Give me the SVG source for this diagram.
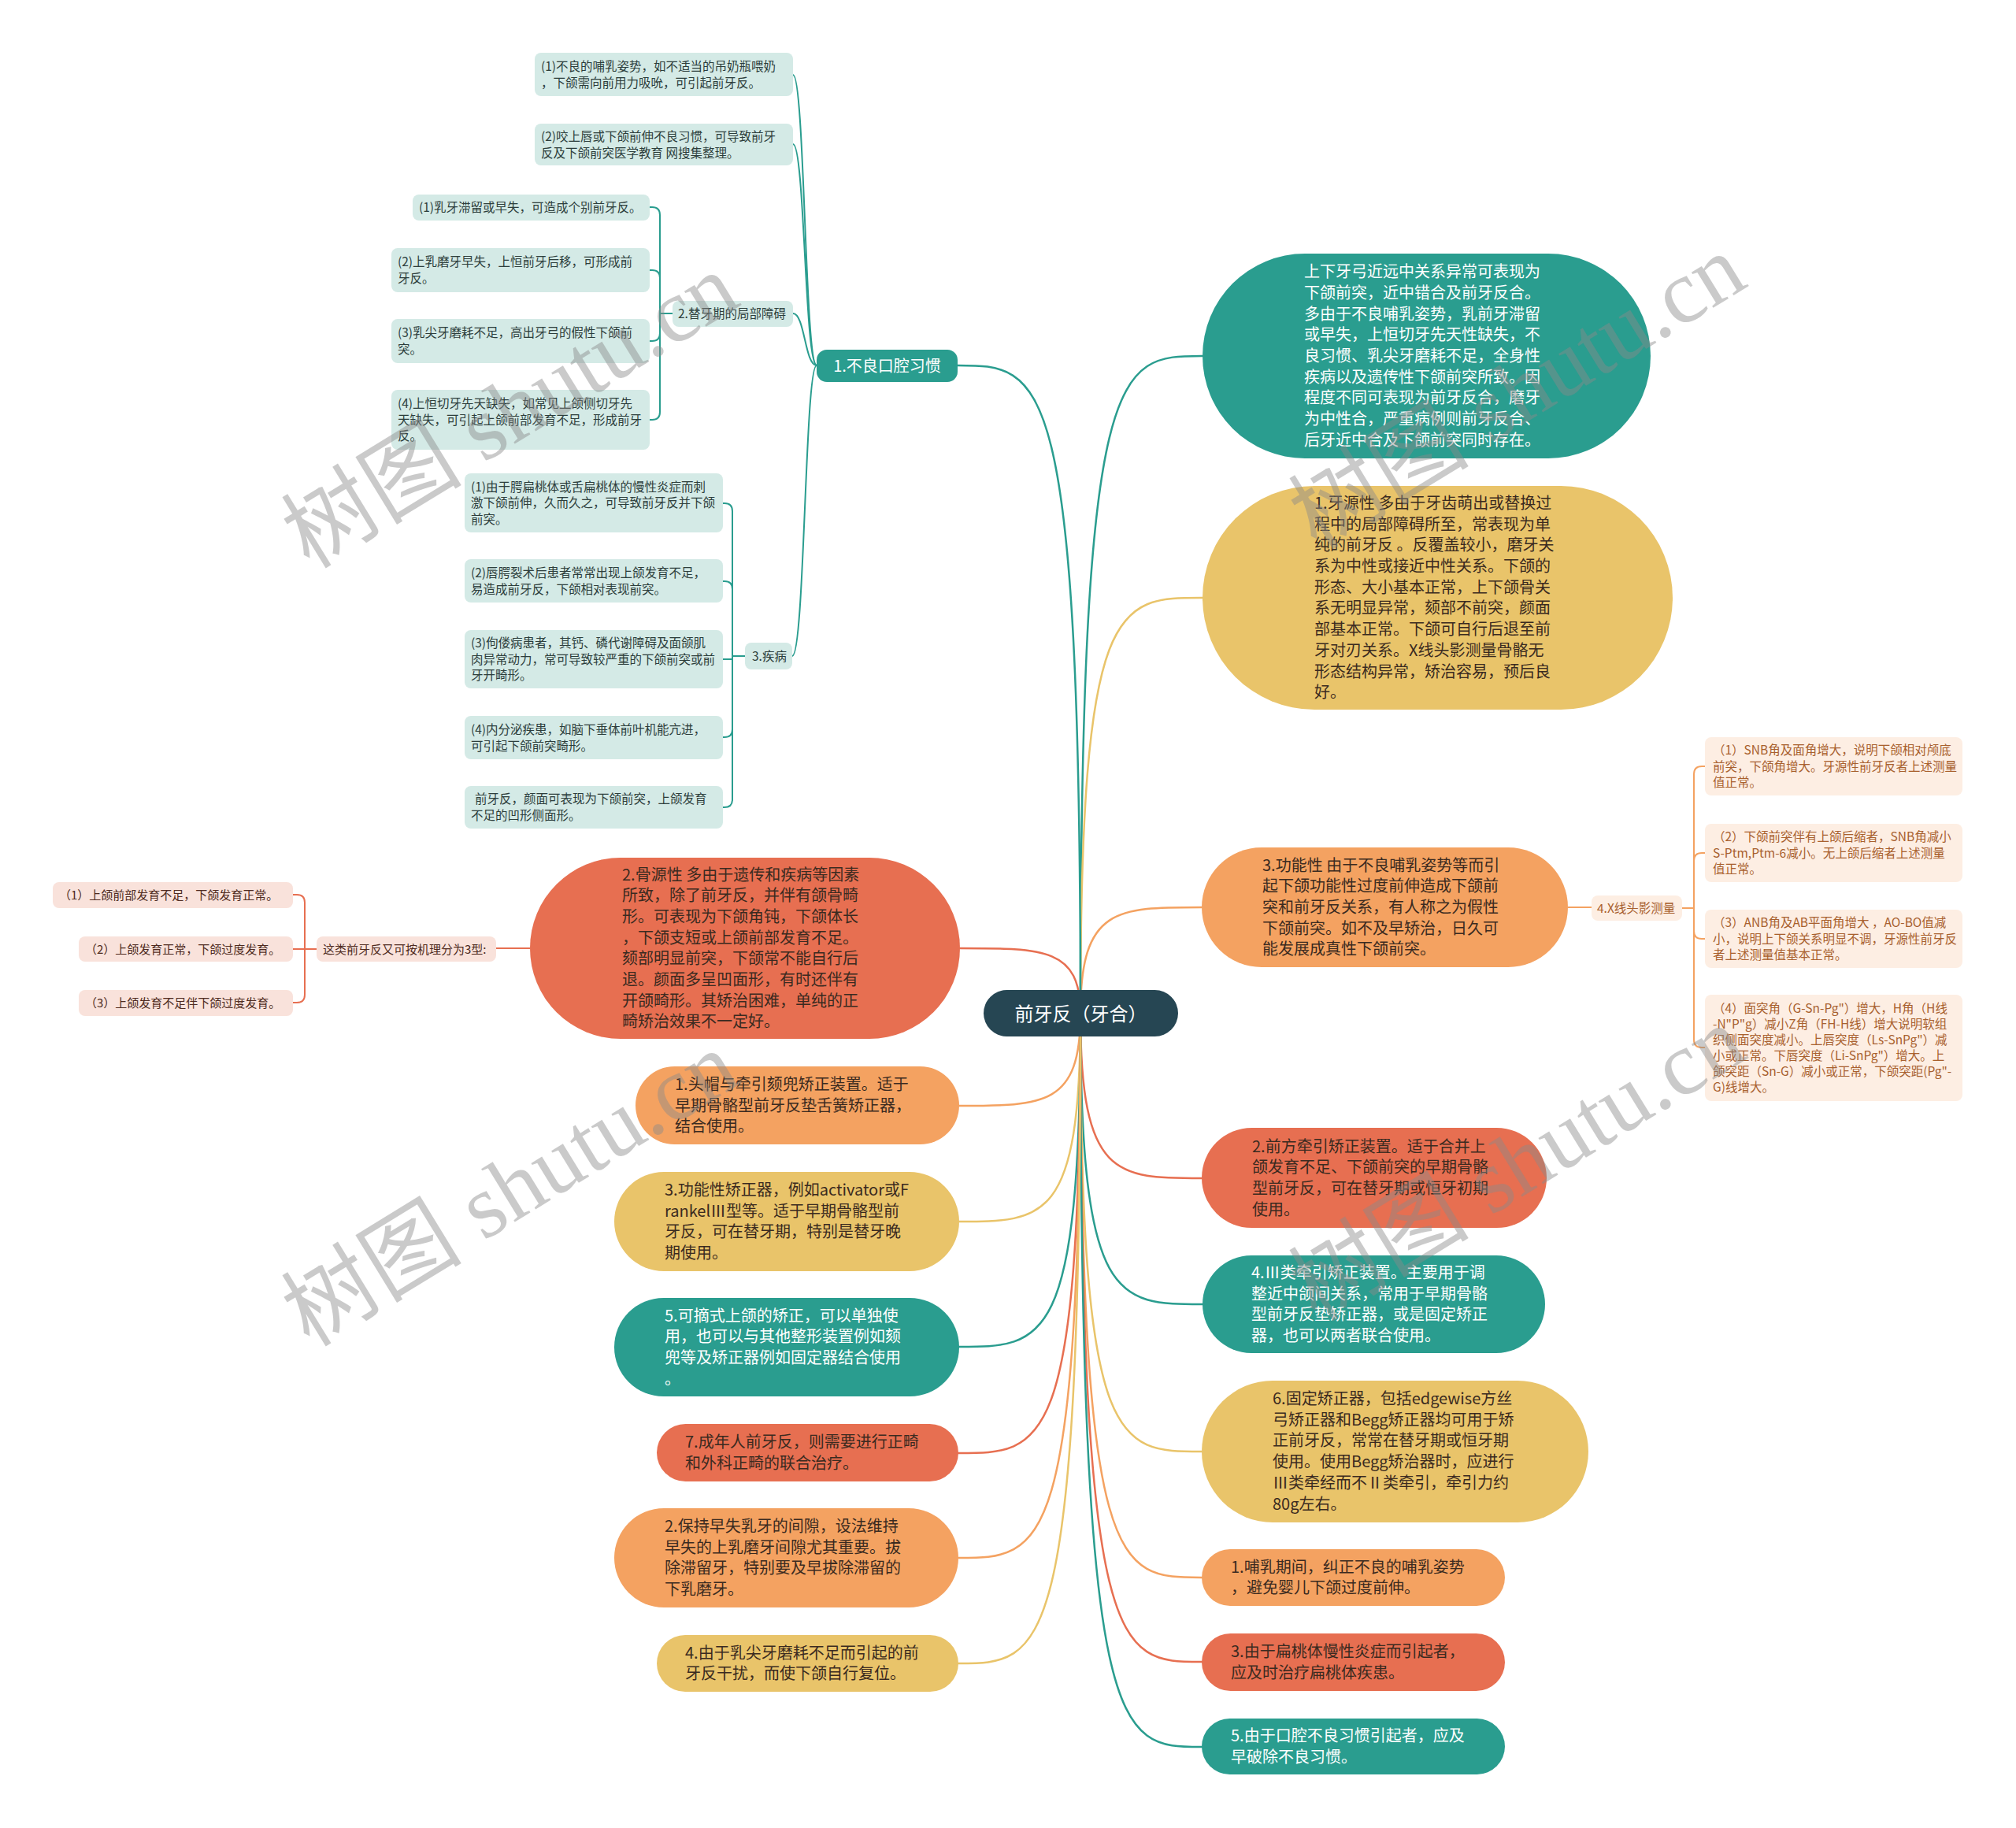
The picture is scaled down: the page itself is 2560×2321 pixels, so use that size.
<svg xmlns="http://www.w3.org/2000/svg" width="2560" height="2321" viewBox="0 0 2560 2321">
<style>
text{font-family:"Noto Sans CJK SC","Noto Sans",sans-serif;}
.big{font-size:20px;}
.sm{font-size:15.5px;}
.xs{font-size:15px;}
.w{fill:#ffffff;}
.d{fill:#3a2a20;}
.tl{fill:#2c3d3b;}
.ob{fill:#a8602e;}
.rb{fill:#4e2a20;}
.teal{fill:#2a9d8f;}
.yel{fill:#e9c46a;}
.org{fill:#f4a261;}
.red{fill:#e76f51;}
.bt{fill:#d4eae6;}
.bo{fill:#fdeee3;}
.br{fill:#f9e2db;}
.c{fill:none;stroke-width:2.5;stroke-linecap:round;}
.g{fill:none;stroke-width:2;}
.sT{stroke:#2a9d8f;}
.sY{stroke:#e9c46a;}
.sO{stroke:#f4a261;}
.sR{stroke:#e76f51;}
.wm{font-family:"Liberation Serif","Noto Sans CJK SC",serif;font-size:115px;fill:#8a8a8a;fill-opacity:0.45;}
</style>
<rect width="2560" height="2321" fill="#ffffff"/>
<g id="connectors">
<path class="c sT" d="M1372 1287 C1372 452 1418 452 1527 452"/>
<path class="c sY" d="M1372 1287 C1372 759 1418 759 1527 759"/>
<path class="c sO" d="M1372 1287 C1372 1152 1418 1152 1526 1152"/>
<path class="c sR" d="M1372 1287 C1372 1496 1418 1496 1526 1496"/>
<path class="c sT" d="M1372 1287 C1372 1656 1418 1656 1527 1656"/>
<path class="c sY" d="M1372 1287 C1372 1843 1418 1843 1526 1843"/>
<path class="c sO" d="M1372 1287 C1372 2003 1418 2003 1526 2003"/>
<path class="c sR" d="M1372 1287 C1372 2110 1418 2110 1526 2110"/>
<path class="c sT" d="M1372 1287 C1372 2218 1418 2218 1526 2218"/>
<path class="c sT" d="M1372 1287 C1372 464 1325 464 1216 464"/>
<path class="c sR" d="M1372 1287 C1372 1204 1326 1204 1219 1204"/>
<path class="c sO" d="M1372 1287 C1372 1404 1326 1404 1218 1404"/>
<path class="c sY" d="M1372 1287 C1372 1551 1326 1551 1218 1551"/>
<path class="c sT" d="M1372 1287 C1372 1710 1326 1710 1218 1710"/>
<path class="c sR" d="M1372 1287 C1372 1845 1326 1845 1217 1845"/>
<path class="c sO" d="M1372 1287 C1372 1978 1326 1978 1217 1978"/>
<path class="c sY" d="M1372 1287 C1372 2112 1326 2112 1217 2112"/>
<path class="g sT" d="M1037 464 C1022 464 1022 95 1007 95"/>
<path class="g sT" d="M1037 464 C1022 464 1022 183 1007 183"/>
<path class="g sT" d="M1037 464 C1022 464 1022 398 1007 398"/>
<path class="g sT" d="M1037 464 C1022 464 1022 833 1006 833"/>
<path class="g sT" d="M854 398 H838 M838 398 V273 Q838 263 828 263 H825 M838 398 V353 Q838 343 828 343 H825 M838 398 V423 Q838 433 828 433 H825 M838 398 V523 Q838 533 828 533 H825"/>
<path class="g sT" d="M946 833 H930 M930 833 V649 Q930 639 920 639 H918 M930 833 V748 Q930 738 920 738 H918 M930 833 V837 H918 M930 833 V926 Q930 936 920 936 H918 M930 833 V1015 Q930 1025 920 1025 H918"/>
<path class="g sO" d="M1991 1152 H2021 M2136 1153 H2151 M2151 1153 V983 Q2151 973 2161 973 H2165 M2151 1153 V1093 Q2151 1083 2161 1083 H2165 M2151 1153 V1182 Q2151 1192 2161 1192 H2165 M2151 1153 V1320 Q2151 1330 2161 1330 H2165"/>
<path class="g sR" d="M673 1204 H630 M402 1205 H372 M387 1205 V1146 Q387 1136 377 1136 H372 M387 1205 V1263 Q387 1273 377 1273 H372"/>
</g>
<g id="root">
<rect x="1249" y="1257" width="247" height="59" rx="29.5" fill="#264653"/>
<text x="1372.5" y="1295.5" text-anchor="middle" class="w" style="font-size:24px">前牙反（牙合）</text>
</g>
<g id="n1">
<rect x="1037" y="444" width="179" height="41" rx="13" class="teal"/>
<text x="1126.5" y="471.5" text-anchor="middle" class="big w">1.不良口腔习惯</text>
</g>
<g id="a1"><rect x="679" y="67" width="328" height="55" rx="8" class="bt"/>
<text class="sm tl"><tspan x="687" y="90">(1)不良的哺乳姿势，如不适当的吊奶瓶喂奶</tspan><tspan x="687" y="110.5">，下颌需向前用力吸吮，可引起前牙反。</tspan></text></g>
<g id="a2"><rect x="679" y="157" width="328" height="53" rx="8" class="bt"/>
<text class="sm tl"><tspan x="687" y="179">(2)咬上唇或下颌前伸不良习惯，可导致前牙</tspan><tspan x="687" y="199.5">反及下颌前突医学教育 网搜集整理。</tspan></text></g>
<g id="b0"><rect x="854" y="382" width="153" height="33" rx="8" class="bt"/>
<text x="861" y="404" class="sm tl">2.替牙期的局部障碍</text></g>
<g id="b1"><rect x="524" y="247" width="301" height="33" rx="8" class="bt"/>
<text x="532" y="269" class="sm tl">(1)乳牙滞留或早失，可造成个别前牙反。</text></g>
<g id="b2"><rect x="497" y="315" width="328" height="56" rx="8" class="bt"/>
<text class="sm tl"><tspan x="505" y="338">(2)上乳磨牙早失，上恒前牙后移，可形成前</tspan><tspan x="505" y="358.5">牙反。</tspan></text></g>
<g id="b3"><rect x="497" y="405" width="328" height="56" rx="8" class="bt"/>
<text class="sm tl"><tspan x="505" y="428">(3)乳尖牙磨耗不足，高出牙弓的假性下颌前</tspan><tspan x="505" y="448.5">突。</tspan></text></g>
<g id="b4"><rect x="497" y="495" width="328" height="76" rx="8" class="bt"/>
<text class="sm tl"><tspan x="505" y="518">(4)上恒切牙先天缺失，如常见上颌侧切牙先</tspan><tspan x="505" y="538.5">天缺失，可引起上颌前部发育不足，形成前牙</tspan><tspan x="505" y="559">反。</tspan></text></g>
<g id="c0"><rect x="946" y="816" width="60" height="34" rx="8" class="bt"/>
<text x="955" y="838.5" class="sm tl">3.疾病</text></g>
<g id="c1"><rect x="590" y="601" width="328" height="75" rx="8" class="bt"/>
<text class="sm tl"><tspan x="598" y="623.5">(1)由于腭扁桃体或舌扁桃体的慢性炎症而刺</tspan><tspan x="598" y="644">激下颌前伸，久而久之，可导致前牙反并下颌</tspan><tspan x="598" y="664.5">前突。</tspan></text></g>
<g id="c2"><rect x="590" y="710" width="328" height="55" rx="8" class="bt"/>
<text class="sm tl"><tspan x="598" y="733">(2)唇腭裂术后患者常常出现上颌发育不足，</tspan><tspan x="598" y="753.5">易造成前牙反，下颌相对表现前突。</tspan></text></g>
<g id="c3"><rect x="590" y="800" width="328" height="74" rx="8" class="bt"/>
<text class="sm tl"><tspan x="598" y="822">(3)佝偻病患者，其钙、磷代谢障碍及面颌肌</tspan><tspan x="598" y="842.5">肉异常动力，常可导致较严重的下颌前突或前</tspan><tspan x="598" y="863">牙开畸形。</tspan></text></g>
<g id="c4"><rect x="590" y="909" width="328" height="55" rx="8" class="bt"/>
<text class="sm tl"><tspan x="598" y="932">(4)内分泌疾患，如脑下垂体前叶机能亢进，</tspan><tspan x="598" y="952.5">可引起下颌前突畸形。</tspan></text></g>
<g id="c5"><rect x="590" y="998" width="328" height="54" rx="8" class="bt"/>
<text class="sm tl"><tspan x="603" y="1020">前牙反，颜面可表现为下颌前突，上颌发育</tspan><tspan x="598" y="1040.5">不足的凹形侧面形。</tspan></text></g>
<g id="L1"><rect x="673" y="1089" width="546" height="230" rx="115" class="red"/>
<text class="big d"><tspan x="790" y="1117.5">2.骨源性 多由于遗传和疾病等因素</tspan><tspan x="790" y="1144.2">所致，除了前牙反，并伴有颌骨畸</tspan><tspan x="790" y="1170.9">形。可表现为下颌角钝，下颌体长</tspan><tspan x="790" y="1197.6">，下颌支短或上颌前部发育不足。</tspan><tspan x="790" y="1224.3">颏部明显前突，下颌常不能自行后</tspan><tspan x="790" y="1251">退。颜面多呈凹面形，有时还伴有</tspan><tspan x="790" y="1277.7">开颌畸形。其矫治困难，单纯的正</tspan><tspan x="790" y="1304.4">畸矫治效果不一定好。</tspan></text></g>
<g id="L1k"><rect x="402" y="1189" width="228" height="32" rx="8" class="br"/>
<text x="410" y="1210.5" class="xs rb">这类前牙反又可按机理分为3型:</text></g>
<g id="L1a"><rect x="67" y="1120" width="305" height="33" rx="8" class="br"/>
<text x="75" y="1142" class="xs rb">（1）上颌前部发育不足，下颌发育正常。</text></g>
<g id="L1b"><rect x="100" y="1189" width="272" height="32" rx="8" class="br"/>
<text x="108" y="1210.5" class="xs rb">（2）上颌发育正常，下颌过度发育。</text></g>
<g id="L1c"><rect x="100" y="1257" width="272" height="33" rx="8" class="br"/>
<text x="108" y="1279" class="xs rb">（3）上颌发育不足伴下颌过度发育。</text></g>
<g id="L2"><rect x="807" y="1354" width="411" height="99" rx="49.5" class="org"/>
<text class="big d"><tspan x="857" y="1384">1.头帽与牵引颏兜矫正装置。适于</tspan><tspan x="857" y="1410.7">早期骨骼型前牙反垫舌簧矫正器，</tspan><tspan x="857" y="1437.4">结合使用。</tspan></text></g>
<g id="L3"><rect x="780" y="1488" width="438" height="126" rx="63" class="yel"/>
<text class="big d"><tspan x="844" y="1518">3.功能性矫正器，例如activator或F</tspan><tspan x="844" y="1544.7">rankelⅢ型等。适于早期骨骼型前</tspan><tspan x="844" y="1571.4">牙反，可在替牙期，特别是替牙晚</tspan><tspan x="844" y="1598.1">期使用。</tspan></text></g>
<g id="L4"><rect x="780" y="1648" width="438" height="125" rx="62.5" class="teal"/>
<text class="big w"><tspan x="844" y="1677.5">5.可摘式上颌的矫正，可以单独使</tspan><tspan x="844" y="1704.2">用，也可以与其他整形装置例如颏</tspan><tspan x="844" y="1730.9">兜等及矫正器例如固定器结合使用</tspan><tspan x="844" y="1757.6">。</tspan></text></g>
<g id="L5"><rect x="834" y="1808" width="383" height="73" rx="36.5" class="red"/>
<text class="big d"><tspan x="870" y="1838">7.成年人前牙反，则需要进行正畸</tspan><tspan x="870" y="1864.7">和外科正畸的联合治疗。</tspan></text></g>
<g id="L6"><rect x="780" y="1915" width="437" height="126" rx="63" class="org"/>
<text class="big d"><tspan x="844" y="1945">2.保持早失乳牙的间隙，设法维持</tspan><tspan x="844" y="1971.7">早失的上乳磨牙间隙尤其重要。拔</tspan><tspan x="844" y="1998.4">除滞留牙，特别要及早拔除滞留的</tspan><tspan x="844" y="2025.1">下乳磨牙。</tspan></text></g>
<g id="L7"><rect x="834" y="2076" width="383" height="72" rx="36" class="yel"/>
<text class="big d"><tspan x="870" y="2105.6">4.由于乳尖牙磨耗不足而引起的前</tspan><tspan x="870" y="2132.3">牙反干扰，而使下颌自行复位。</tspan></text></g>
<g id="R1"><rect x="1527" y="322" width="569" height="260" rx="130" class="teal"/>
<text class="big w"><tspan x="1656" y="352.2">上下牙弓近远中关系异常可表现为</tspan><tspan x="1656" y="378.9">下颌前突，近中错合及前牙反合。</tspan><tspan x="1656" y="405.6">多由于不良哺乳姿势，乳前牙滞留</tspan><tspan x="1656" y="432.3">或早失，上恒切牙先天性缺失，不</tspan><tspan x="1656" y="459">良习惯、乳尖牙磨耗不足，全身性</tspan><tspan x="1656" y="485.7">疾病以及遗传性下颌前突所致。因</tspan><tspan x="1656" y="512.4">程度不同可表现为前牙反合，磨牙</tspan><tspan x="1656" y="539.1">为中性合，严重病例则前牙反合、</tspan><tspan x="1656" y="565.8">后牙近中合及下颌前突同时存在。</tspan></text></g>
<g id="R2"><rect x="1527" y="617" width="597" height="284" rx="142" class="yel"/>
<text class="big d"><tspan x="1669" y="645.9">1.牙源性 多由于牙齿萌出或替换过</tspan><tspan x="1669" y="672.6">程中的局部障碍所至，常表现为单</tspan><tspan x="1669" y="699.3">纯的前牙反 。反覆盖较小，磨牙关</tspan><tspan x="1669" y="726">系为中性或接近中性关系。下颌的</tspan><tspan x="1669" y="752.7">形态、大小基本正常，上下颌骨关</tspan><tspan x="1669" y="779.4">系无明显异常，颏部不前突，颜面</tspan><tspan x="1669" y="806.1">部基本正常。下颌可自行后退至前</tspan><tspan x="1669" y="832.8">牙对刃关系。X线头影测量骨骼无</tspan><tspan x="1669" y="859.5">形态结构异常，矫治容易，预后良</tspan><tspan x="1669" y="886.2">好。</tspan></text></g>
<g id="R3"><rect x="1526" y="1076" width="465" height="152" rx="76" class="org"/>
<text class="big d"><tspan x="1603" y="1105.6">3.功能性 由于不良哺乳姿势等而引</tspan><tspan x="1603" y="1132.3">起下颌功能性过度前伸造成下颌前</tspan><tspan x="1603" y="1159">突和前牙反关系，有人称之为假性</tspan><tspan x="1603" y="1185.7">下颌前突。如不及早矫治，日久可</tspan><tspan x="1603" y="1212.4">能发展成真性下颌前突。</tspan></text></g>
<g id="X0"><rect x="2021" y="1137" width="115" height="32" rx="8" class="bo"/>
<text x="2028" y="1158.5" class="sm ob">4.X线头影测量</text></g>
<g id="X1"><rect x="2165" y="936" width="327" height="74" rx="8" class="bo"/>
<text class="sm ob"><tspan x="2175" y="958">（1）SNB角及面角增大，说明下颌相对颅底</tspan><tspan x="2175" y="978.5">前突，下颌角增大。牙源性前牙反者上述测量</tspan><tspan x="2175" y="999">值正常。</tspan></text></g>
<g id="X2"><rect x="2165" y="1046" width="327" height="74" rx="8" class="bo"/>
<text class="sm ob"><tspan x="2175" y="1068">（2）下颌前突伴有上颌后缩者，SNB角减小</tspan><tspan x="2175" y="1088.5">S-Ptm,Ptm-6减小。无上颌后缩者上述测量</tspan><tspan x="2175" y="1109">值正常。</tspan></text></g>
<g id="X3"><rect x="2165" y="1155" width="327" height="74" rx="8" class="bo"/>
<text class="sm ob"><tspan x="2175" y="1177">（3）ANB角及AB平面角增大 ，AO-BO值减</tspan><tspan x="2175" y="1197.5">小，说明上下颌关系明显不调，牙源性前牙反</tspan><tspan x="2175" y="1218">者上述测量值基本正常。</tspan></text></g>
<g id="X4"><rect x="2165" y="1263" width="327" height="135" rx="8" class="bo"/>
<text class="sm ob"><tspan x="2175" y="1286">（4）面突角（G-Sn-Pg"）增大，H角（H线</tspan><tspan x="2175" y="1306">-N"P"g）减小Z角（FH-H线）增大说明软组</tspan><tspan x="2175" y="1326">织侧面突度减小。上唇突度（Ls-SnPg"）减</tspan><tspan x="2175" y="1346">小或正常。下唇突度（Li-SnPg"）增大。上</tspan><tspan x="2175" y="1366">颌突距（Sn-G）减小或正常，下颌突距(Pg"-</tspan><tspan x="2175" y="1386">G)线增大。</tspan></text></g>
<g id="R4"><rect x="1526" y="1432" width="438" height="127" rx="63.5" class="red"/>
<text class="big d"><tspan x="1590" y="1462.5">2.前方牵引矫正装置。适于合并上</tspan><tspan x="1590" y="1489.2">颌发育不足、下颌前突的早期骨骼</tspan><tspan x="1590" y="1515.9">型前牙反，可在替牙期或恒牙初期</tspan><tspan x="1590" y="1542.6">使用。</tspan></text></g>
<g id="R5"><rect x="1527" y="1594" width="435" height="124" rx="62" class="teal"/>
<text class="big w"><tspan x="1589" y="1623">4.Ⅲ类牵引矫正装置。主要用于调</tspan><tspan x="1589" y="1649.7">整近中颌间关系，常用于早期骨骼</tspan><tspan x="1589" y="1676.4">型前牙反垫矫正器，或是固定矫正</tspan><tspan x="1589" y="1703.1">器，也可以两者联合使用。</tspan></text></g>
<g id="R6"><rect x="1526" y="1753" width="491" height="180" rx="90" class="yel"/>
<text class="big d"><tspan x="1616" y="1783">6.固定矫正器，包括edgewise方丝</tspan><tspan x="1616" y="1809.7">弓矫正器和Begg矫正器均可用于矫</tspan><tspan x="1616" y="1836.4">正前牙反，常常在替牙期或恒牙期</tspan><tspan x="1616" y="1863.1">使用。使用Begg矫治器时，应进行</tspan><tspan x="1616" y="1889.8">Ⅲ类牵经而不Ⅱ类牵引，牵引力约</tspan><tspan x="1616" y="1916.5">80g左右。</tspan></text></g>
<g id="R7"><rect x="1526" y="1967" width="385" height="72" rx="36" class="org"/>
<text class="big d"><tspan x="1563" y="1996.6">1.哺乳期间，纠正不良的哺乳姿势</tspan><tspan x="1563" y="2023.3">，避免婴儿下颌过度前伸。</tspan></text></g>
<g id="R8"><rect x="1526" y="2074" width="385" height="73" rx="36.5" class="red"/>
<text class="big d"><tspan x="1563" y="2104">3.由于扁桃体慢性炎症而引起者，</tspan><tspan x="1563" y="2130.7">应及时治疗扁桃体疾患。</tspan></text></g>
<g id="R9"><rect x="1526" y="2182" width="385" height="71" rx="35.5" class="teal"/>
<text class="big w"><tspan x="1563" y="2211">5.由于口腔不良习惯引起者，应及</tspan><tspan x="1563" y="2237.7">早破除不良习惯。</tspan></text></g>
<g id="watermark">
<text class="wm" x="648" y="522" text-anchor="middle" dominant-baseline="central" transform="rotate(-31.5 648 522)">树图 shutu.cn</text>
<text class="wm" x="1927" y="498" text-anchor="middle" dominant-baseline="central" transform="rotate(-31.5 1927 498)">树图 shutu.cn</text>
<text class="wm" x="648" y="1510" text-anchor="middle" dominant-baseline="central" transform="rotate(-31.5 648 1510)">树图 shutu.cn</text>
<text class="wm" x="1927" y="1478" text-anchor="middle" dominant-baseline="central" transform="rotate(-31.5 1927 1478)">树图 shutu.cn</text>
</g>
</svg>
